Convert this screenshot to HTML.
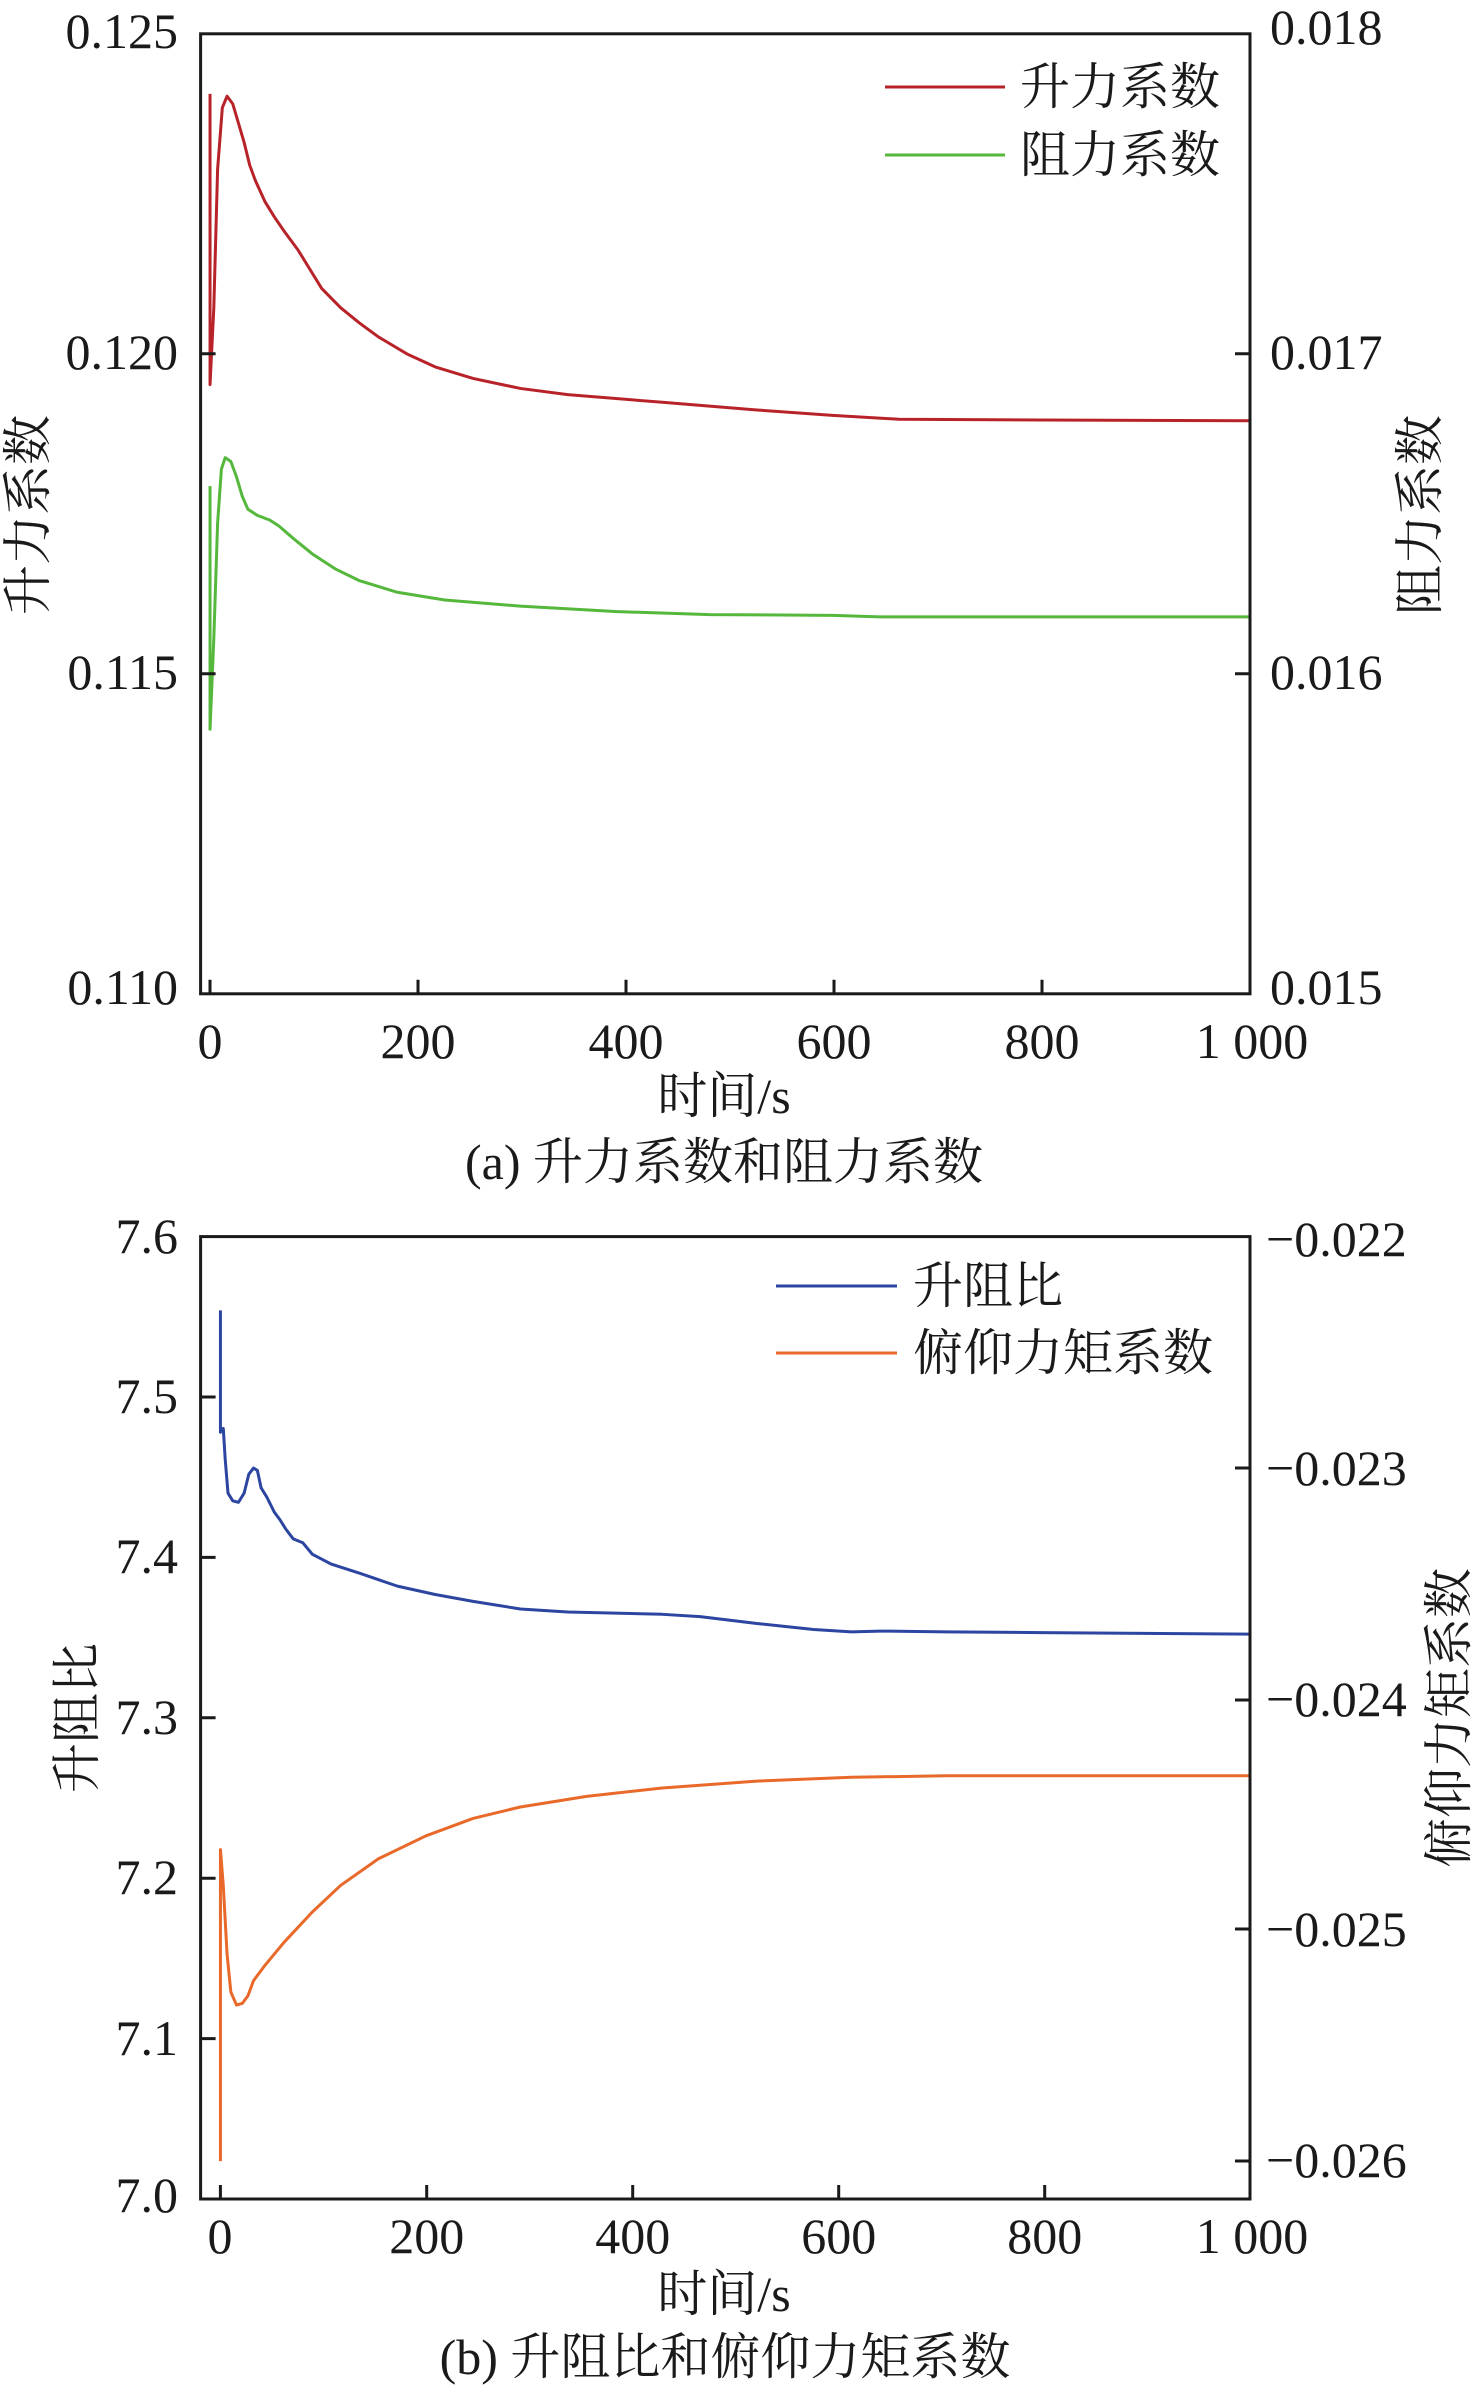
<!DOCTYPE html>
<html><head><meta charset="utf-8"><style>
html,body{margin:0;padding:0;background:#fff;}
svg text{font-family:"Liberation Serif","Noto Serif CJK SC","Noto Sans CJK SC",serif;fill:#1a1a1a;}
</style></head><body>
<svg width="1476" height="2388" viewBox="0 0 1476 2388" xmlns="http://www.w3.org/2000/svg">
<g fill="none" stroke-width="3" stroke-linejoin="round">
<g transform="scale(0.9461,0.7692)">
<path vector-effect="non-scaling-stroke" stroke="#b8232a" d="M222,122 L222,500 L226,400 L230,220 L235,140 L240,125 L246,135 L252,160 L258,185 L264,215 L270,235 L280,262 L290,282 L300,300 L315,325 L325,345 L340,375 L360,400 L380,420 L400,438 L430,460 L460,477 L500,492 L550,505 L600,513 L700,523 L800,533 L880,540 L950,545 L1100,546 L1321,547"/>
<path vector-effect="non-scaling-stroke" stroke="#55b83c" d="M222,632 L222,948 L226,830 L230,680 L234,610 L238,595 L244,600 L250,620 L256,645 L262,662 L272,670 L285,676 L295,684 L310,700 L330,720 L355,740 L380,755 L420,770 L470,780 L550,788 L650,795 L750,799 L880,800 L930,802 L1321,802"/>
</g>
</g>
<g stroke="#1a1a1a" stroke-width="3" fill="none">
<rect x="200.6" y="33.8" width="1049.4" height="960"/>
<path d="M200.6,353.8h15 M200.6,673.8h15 M1250,353.8h-15 M1250,673.8h-15 M210,993.8v-14 M418,993.8v-14 M626,993.8v-14 M834,993.8v-14 M1042,993.8v-14"/>
</g>
<g stroke-width="3">
<line x1="885" y1="87" x2="1005" y2="87" stroke="#b8232a"/>
<line x1="885" y1="155" x2="1005" y2="155" stroke="#55b83c"/>
</g>
<g font-size="50">
<text x="178" y="48" text-anchor="end">0.125</text>
<text x="178" y="369" text-anchor="end">0.120</text>
<text x="178" y="689" text-anchor="end">0.115</text>
<text x="178" y="1004" text-anchor="end">0.110</text>
<text x="1270" y="44">0.018</text>
<text x="1270" y="369">0.017</text>
<text x="1270" y="689">0.016</text>
<text x="1270" y="1004">0.015</text>
<text x="210" y="1058" text-anchor="middle">0</text>
<text x="418" y="1058" text-anchor="middle">200</text>
<text x="626" y="1058" text-anchor="middle">400</text>
<text x="834" y="1058" text-anchor="middle">600</text>
<text x="1042" y="1058" text-anchor="middle">800</text>
<text x="1252" y="1058" text-anchor="middle">1 000</text>
<text x="724" y="1113" text-anchor="middle">时间/s</text>
<text x="724" y="1179" text-anchor="middle">(a) 升力系数和阻力系数</text>
<text x="1020" y="104">升力系数</text>
<text x="1020" y="172">阻力系数</text>
<text transform="translate(45,515) rotate(-90)" text-anchor="middle">升力系数</text>
<text transform="translate(1437,515) rotate(-90)" text-anchor="middle">阻力系数</text>
</g>

<g fill="none" stroke-width="3" stroke-linejoin="round">
<g transform="translate(0,1200) scale(0.9461,0.7616)">
<path vector-effect="non-scaling-stroke" stroke="#2c45a0" d="M233,145 L233,305 L236,300 L238,340 L241,385 L246,395 L252,397 L258,385 L263,360 L268,352 L272,355 L276,378 L282,390 L290,410 L296,420 L302,432 L310,445 L320,450 L330,465 L350,478 L380,490 L420,507 L460,518 L500,527 L550,537 L600,541 L700,544 L740,547 L800,556 L860,564 L900,567 L930,566 L1000,567 L1100,568 L1321,570"/>
<path vector-effect="non-scaling-stroke" stroke="#e8692a" d="M233,1262 L233,853 L236,900 L240,990 L244,1040 L250,1057 L256,1055 L262,1045 L268,1025 L280,1005 L300,975 L330,935 L360,900 L400,865 L450,835 L500,812 L550,797 L620,783 L700,772 L800,763 L900,758 L1000,756 L1321,756"/>
</g>
</g>
<g stroke="#1a1a1a" stroke-width="3" fill="none">
<rect x="200.6" y="1236.6" width="1049.4" height="962.4"/>
<path d="M200.6,1397h15 M200.6,1557.4h15 M200.6,1717.8h15 M200.6,1878.2h15 M200.6,2038.6h15 M1250,1468h-15 M1250,1700h-15 M1250,1929h-15 M1250,2161h-15 M220.4,2199v-14 M426.7,2199v-14 M632.7,2199v-14 M838.7,2199v-14 M1044.7,2199v-14"/>
</g>
<g stroke-width="3">
<line x1="776" y1="1286" x2="897" y2="1286" stroke="#2c45a0"/>
<line x1="776" y1="1353" x2="897" y2="1353" stroke="#e8692a"/>
</g>
<g font-size="50">
<text x="178" y="1253" text-anchor="end">7.6</text>
<text x="178" y="1413" text-anchor="end">7.5</text>
<text x="178" y="1573" text-anchor="end">7.4</text>
<text x="178" y="1734" text-anchor="end">7.3</text>
<text x="178" y="1894" text-anchor="end">7.2</text>
<text x="178" y="2055" text-anchor="end">7.1</text>
<text x="178" y="2212" text-anchor="end">7.0</text>
<text x="1266" y="1256">−0.022</text>
<text x="1266" y="1485">−0.023</text>
<text x="1266" y="1716">−0.024</text>
<text x="1266" y="1946">−0.025</text>
<text x="1266" y="2177">−0.026</text>
<text x="220" y="2253" text-anchor="middle">0</text>
<text x="426.7" y="2253" text-anchor="middle">200</text>
<text x="632.7" y="2253" text-anchor="middle">400</text>
<text x="838.7" y="2253" text-anchor="middle">600</text>
<text x="1044.7" y="2253" text-anchor="middle">800</text>
<text x="1252" y="2253" text-anchor="middle">1 000</text>
<text x="724" y="2311" text-anchor="middle">时间/s</text>
<text x="725" y="2374" text-anchor="middle">(b) 升阻比和俯仰力矩系数</text>
<text x="913" y="1303">升阻比</text>
<text x="913" y="1370">俯仰力矩系数</text>
<text transform="translate(94,1718) rotate(-90)" text-anchor="middle">升阻比</text>
<text transform="translate(1466,1718) rotate(-90)" text-anchor="middle">俯仰力矩系数</text>
</g>
</svg>
</body></html>
